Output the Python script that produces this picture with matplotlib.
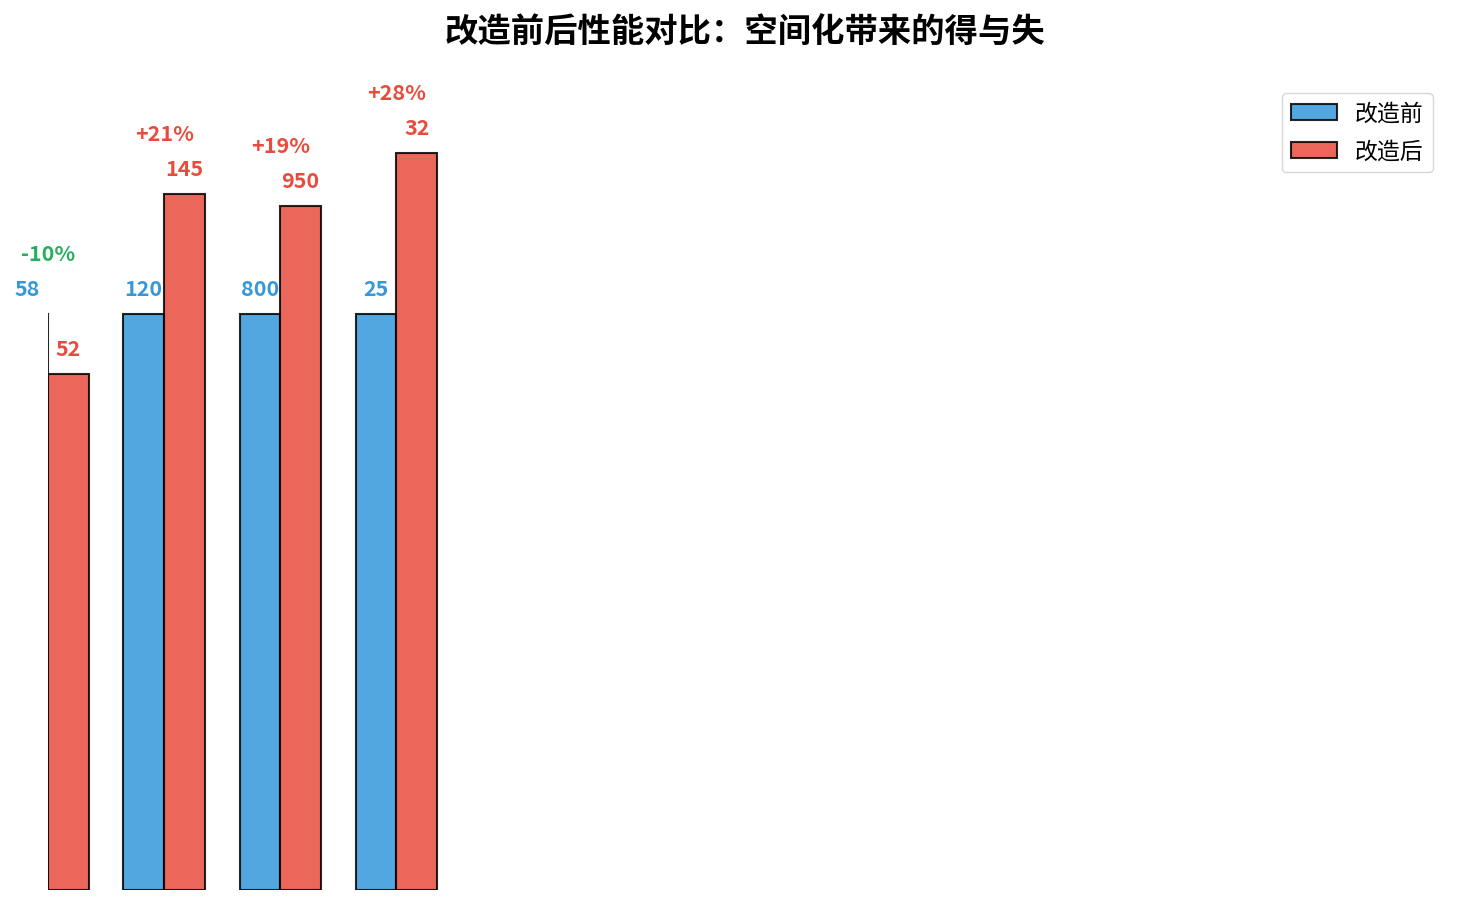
import matplotlib
matplotlib.use("Agg")
from matplotlib import pyplot as plt
import numpy as np

plt.rcParams['font.family'] = ['Noto Sans CJK SC', 'DejaVu Sans']
plt.rcParams['axes.unicode_minus'] = False

# 数据
metrics = ["指标1", "指标2", "指标3", "指标4"]
before = [58, 120, 800, 25]
after = [52, 145, 950, 32]
series_names = ["改造前", "改造后"]

BLUE = "#3498db"
RED = "#e74c3c"
GREEN = "#27ae60"

before_n = np.ones(len(before))
after_n = np.array(after) / np.array(before)
x = np.arange(len(metrics))
w = 0.35

fig = plt.figure(figsize=(14.58, 9.06), dpi=100)
ax = fig.add_axes([0.0329, 0.0177, 0.9561, 0.8896])

ax.bar(x - w / 2, before_n, w, color=BLUE, alpha=0.85, edgecolor="black",
       linewidth=1.5, label=series_names[0])
ax.bar(x + w / 2, after_n, w, color=RED, alpha=0.85, edgecolor="black",
       linewidth=1.5, label=series_names[1])

for i in range(len(metrics)):
    ax.text(x[i] - w / 2, before_n[i] + 0.043, str(before[i]), ha="center",
            va="center", fontsize=15.5, fontweight="bold", color=BLUE)
    ax.text(x[i] + w / 2, after_n[i] + 0.043, str(after[i]), ha="center",
            va="center", fontsize=15.5, fontweight="bold", color=RED)
    pct = (after_n[i] - 1) * 100
    c = GREEN if pct < 0 else RED
    top = max(before_n[i], after_n[i])
    ax.text(x[i], top + 0.104, f"{pct:+.0f}%", ha="center", va="center",
            fontsize=15.5, fontweight="bold", color=c)

ax.set_xlim(0, 12)
ax.set_ylim(0, 1.4)
ax.set_axis_off()
ax.set_title("改造前后性能对比：空间化带来的得与失", fontsize=24,
             fontweight="bold", pad=30)
ax.legend(loc="upper right", fontsize=16.5, borderaxespad=0.4,
          labelspacing=0.65)

fig.savefig("out.png", dpi=100)
